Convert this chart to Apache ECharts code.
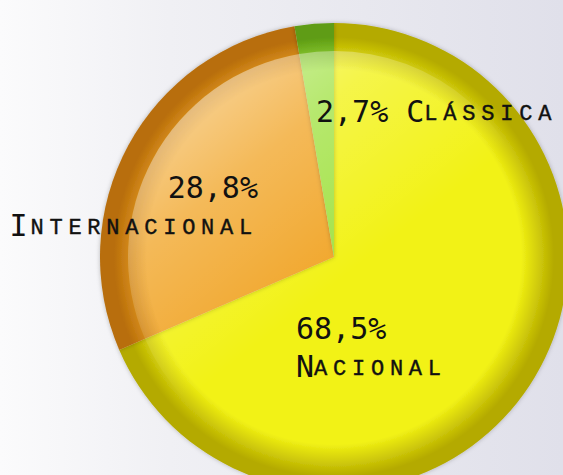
<!DOCTYPE html>
<html>
<head>
<meta charset="utf-8">
<script src="https://cdn.jsdelivr.net/npm/echarts@6/dist/echarts.min.js"></script>
<style>
  html, body { margin: 0; padding: 0; }
  #chart { width: 563px; height: 475px; }
  /* versaletes: espaco = largura medida - largura real (mono 0.6em, versalete 0.7x) */
  #chart svg text[style*="Liberation"] { font-variant: small-caps !important; letter-spacing: 5.76px; }
</style>
</head>
<body>
<div id="chart"></div>
<script>
// dados
const categorias = ['Nacional', 'Internacional', 'Clássica'];
const valores = [68.5, 28.8, 2.7];
const coresBase = ['#f2f214', '#f1a62a', '#a2e244'];
const coresBorda = ['#b4aa00', '#b86e0a', '#5e9c12'];

const chart = echarts.init(document.getElementById('chart'), null, { renderer: 'svg' });

const cx = 334, cy = 257, raio = 234;

// posicao das etiquetas
const posEtiquetas = [
  { x: 296, y: 347, align: 'left' },
  { x: 258, y: 206, align: 'right' },
  { x: 316, y: 111, align: 'left' }
];

function fmt(v) {
  return v.toFixed(1).replace('.', ',') + '%';
}

const dadosBase = categorias.map((nome, i) => ({
  name: nome,
  value: valores[i],
  itemStyle: {
    color: {
      type: 'radial', x: cx, y: cy, r: raio, global: true,
      colorStops: [
        { offset: 0, color: coresBase[i] },
        { offset: 0.8, color: coresBase[i] },
        { offset: 0.94, color: coresBorda[i] },
        { offset: 1, color: coresBorda[i] }
      ]
    }
  }
}));

// brilho por cima (leva as etiquetas)
const dadosBrilho = categorias.map((nome, i) => ({ name: nome, value: valores[i] }));

const option = {
  backgroundColor: {
    type: 'linear', x: 0, y: 0, x2: 1, y2: 0,
    colorStops: [
      { offset: 0, color: '#fbfbfc' },
      { offset: 0.3, color: '#f0f0f4' },
      { offset: 1, color: '#e0e0ea' }
    ]
  },
  animation: false,
  series: [
    {
      type: 'pie',
      center: [cx, cy],
      radius: [0, raio],
      startAngle: 90,
      clockwise: true,
      silent: true,
      data: dadosBase,
      itemStyle: {
        borderWidth: 0,
        shadowBlur: 4,
        shadowColor: 'rgba(0,0,0,0.25)'
      },
      label: { show: false },
      labelLine: { show: false },
      emphasis: { disabled: true },
      z: 1
    },
    {
      type: 'pie',
      center: [cx, cy],
      radius: [0, 206],
      startAngle: 90,
      clockwise: true,
      silent: true,
      data: dadosBrilho,
      itemStyle: {
        borderWidth: 0,
        color: {
          type: 'linear', x: 160, y: 50, x2: 340, y2: 280, global: true,
          colorStops: [
            { offset: 0, color: 'rgba(255,255,255,0.62)' },
            { offset: 0.5, color: 'rgba(255,255,255,0.22)' },
            { offset: 1, color: 'rgba(255,255,255,0)' }
          ]
        }
      },
      label: {
        show: true,
        position: 'inside',
        color: '#111',
        formatter: function (p) {
          const ini = '{N|' + p.name.charAt(0) + '}{n|' + p.name.slice(1) + '}';
          if (p.dataIndex === 2) {
            return '{p|' + fmt(p.value) + ' }' + ini;
          }
          return '{p|' + fmt(p.value) + '}\n' + ini;
        },
        rich: {
          p: { fontFamily: 'DejaVu Sans Mono', fontSize: 30, lineHeight: 38, color: '#111' },
          N: { fontFamily: 'DejaVu Sans Mono', fontSize: 30, lineHeight: 38, color: '#111' },
          n: {
            fontFamily: 'Liberation Mono', fontSize: 32, lineHeight: 38, color: '#111',
            textBorderColor: '#111', textBorderWidth: 0.4
          }
        }
      },
      labelLine: { show: false },
      labelLayout: function (params) {
        const pos = posEtiquetas[params.dataIndex];
        return { x: pos.x, y: pos.y, align: pos.align, verticalAlign: 'middle' };
      },
      emphasis: { disabled: true },
      z: 2
    }
  ]
};

chart.setOption(option);
</script>
</body>
</html>
